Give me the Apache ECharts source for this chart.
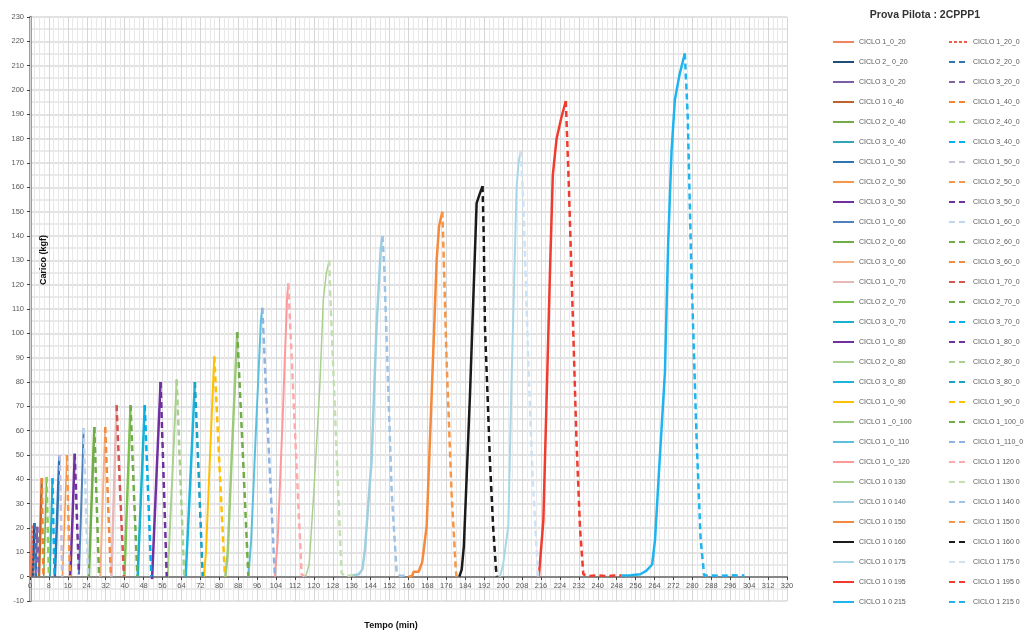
<!DOCTYPE html>
<html><head><meta charset="utf-8">
<script src="https://cdn.jsdelivr.net/npm/echarts@6/dist/echarts.min.js"></script>
<style>html,body{margin:0;padding:0;background:#fff}#c{width:1025px;height:634px}</style>
</head><body><div id="c"></div>
<script>
// ---------- DATA ----------
const loadNames = ["CICLO 1_0_20","CICLO 2_ 0_20","CICLO 3_0_20","CICLO 1 0_40","CICLO 2_0_40","CICLO 3_0_40","CICLO 1_0_50","CICLO 2_0_50","CICLO 3_0_50","CICLO 1_0_60","CICLO 2_0_60","CICLO 3_0_60","CICLO 1_0_70","CICLO 2_0_70","CICLO 3_0_70","CICLO 1_0_80","CICLO 2_0_80","CICLO 3_0_80","CICLO 1_0_90","CICLO 1 _0_100","CICLO 1_0_110","CICLO 1_0_120","CICLO 1 0 130","CICLO 1 0 140","CICLO 1 0 150","CICLO 1 0 160","CICLO 1 0 175","CICLO 1 0 195","CICLO 1 0 215"];
const unloadNames = ["CICLO 1_20_0","CICLO 2_20_0","CICLO 3_20_0","CICLO 1_40_0","CICLO 2_40_0","CICLO 3_40_0","CICLO 1_50_0","CICLO 2_50_0","CICLO 3_50_0","CICLO 1_60_0","CICLO 2_60_0","CICLO 3_60_0","CICLO 1_70_0","CICLO 2_70_0","CICLO 3_70_0","CICLO 1_80_0","CICLO 2_80_0","CICLO 3_80_0","CICLO 1_90_0","CICLO 1_100_0","CICLO 1_110_0","CICLO 1 120 0","CICLO 1 130 0","CICLO 1 140 0","CICLO 1 150 0","CICLO 1 160 0","CICLO 1 175 0","CICLO 1 195 0","CICLO 1 215 0"];

// loading curves [time (min), load (kgf)]
const loadCurves = [
  [[0.1,0],[0.4,10],[0.8,21]],
  [[1.2,0],[1.5,10],[1.9,22]],
  [[2.4,0],[2.7,10],[3.1,20.5]],
  [[3.8,0],[4.4,20],[5.0,40.5]],
  [[5.8,0],[6.4,20],[7.0,41]],
  [[8.4,0],[8.9,20],[9.5,40.5]],
  [[10.5,0],[11.5,25],[12.3,47],[12.6,50]],
  [[13.7,0],[14.7,25],[15.6,50]],
  [[17.0,0],[18.0,25],[18.9,50.5]],
  [[20.7,1],[21.7,30],[22.7,61]],
  [[24.9,0],[26.0,30],[27.2,61.5]],
  [[29.7,0],[30.7,30],[31.8,61.5]],
  [[34.4,0],[35.5,35],[36.6,70.5]],
  [[39.9,0],[41.2,35],[42.5,70.5]],
  [[45.5,0],[47.0,35],[48.5,70.5]],
  [[51.6,-1],[53.4,40],[55.2,80]],
  [[58.2,0],[60.1,40],[62.0,81]],
  [[65.8,0],[67.8,40],[69.7,80]],
  [[73.5,0],[74.4,10],[76.1,50],[77.9,90.5]],
  [[82.6,0],[83.6,10],[85.3,50],[87.6,100.5]],
  [[92.3,0],[93.5,15],[95.5,60],[97.6,105],[98.2,110.5]],
  [[103.5,0],[104.7,15],[106.8,65],[108.7,115],[109.2,120.5]],
  [[116.5,0],[118,5],[120,35],[122.5,78],[124,114],[125.3,125],[126.5,130]],
  [[136.5,0.5],[139,1],[140.5,3],[141.6,11],[143,30],[144.4,48],[146.5,103],[148.3,135],[149,140]],
  [[160,0],[161.5,0.3],[162.2,2],[164.3,2],[165.8,6],[167.7,21],[169.8,75],[171.9,130],[172.9,144],[174.3,150]],
  [[181.5,0],[182.5,3],[183.4,12.5],[186,75],[188.8,153.5],[190,157],[191.3,160.5]],
  [[198.6,0],[200,5],[202.2,21],[203.6,82],[205.7,160],[206.5,170],[207.5,175]],
  [[215.1,0],[217,23],[219.8,125],[221,165],[222.6,180],[224.7,189],[226.5,195.5]],
  [[250,0.5],[254,0.6],[258,1],[260.6,2.5],[263,5],[264.2,15],[266,45],[268.4,84],[269.8,138],[271.2,175],[272.6,196],[274.5,206],[276.8,215]]
];
// unloading curves [time (min), load (kgf)]
const unloadCurves = [
  [[0.8,21],[1.1,10],[1.4,0]],
  [[1.9,22],[2.2,10],[2.5,0]],
  [[3.1,20.5],[3.4,10],[3.8,0]],
  [[5.0,40.5],[5.3,20],[5.7,0]],
  [[7.0,41],[7.5,20],[8.0,0]],
  [[9.5,40.5],[9.9,20],[10.4,0]],
  [[12.6,50],[13.1,25],[13.6,0]],
  [[15.6,50],[16.2,25],[16.9,0]],
  [[18.9,50.5],[19.8,25],[20.7,1]],
  [[22.7,61],[23.6,30],[24.6,0]],
  [[27.2,61.5],[28.2,30],[29.2,0]],
  [[31.8,61.5],[33.0,30],[34.2,0]],
  [[36.6,70.5],[38.1,35],[39.7,0]],
  [[42.5,70.5],[43.9,35],[45.4,0]],
  [[48.5,70.5],[49.9,35],[51.3,0]],
  [[55.2,80],[56.5,40],[57.8,0]],
  [[62.0,81],[63.6,40],[65.2,0]],
  [[69.7,80],[71.4,40],[73.0,0]],
  [[77.9,90.5],[80.1,45],[82.4,0]],
  [[87.6,100.5],[90.0,50],[92.3,0]],
  [[98.2,110.5],[100.8,55],[103.5,0]],
  [[109.2,120.5],[112,60],[114.8,1],[116,0]],
  [[126.5,130],[126.8,119],[128.9,68.6],[130.3,34.4],[131.7,1.6],[133,0.3],[135,0.5],[136.5,0.8]],
  [[149,140],[149.8,126],[151.5,75.5],[152.9,34.5],[155,1.6],[156.5,0.3],[158.9,0.5]],
  [[174.3,150],[174.7,137],[176.1,89],[178.2,34.4],[180,3],[180.3,0]],
  [[191.3,160.5],[191.8,140],[192.3,103],[193.4,75],[194.4,48],[195.8,20],[197,3],[197.4,0]],
  [[207.5,175],[208.7,150],[210.6,89],[212.5,40],[214.8,0]],
  [[226.5,195.5],[227.8,160],[228.9,125],[231,56],[232.5,20],[233.9,1],[236,0.3],[240,0.5],[244,0.2],[247,0.5],[250,0.5]],
  [[276.8,215],[278,190],[279.6,125],[281.8,56],[283.5,15],[285,0.5],[288,0.5],[292,0.3],[296,0.6],[300,0.4],[302,0.5]]
];

// ---------- STYLES ----------
const loadColors = ["#F4845F","#1F4E79","#7B5EA7","#C0622B","#77A84A","#31A6B5","#2E75B6","#F79646","#7030A0","#4F81BD","#70AD47","#F4B183","#E6B9B8","#7BC14B","#17B2D0","#7030A0","#A9D18E","#1CB5E0","#FFC000","#9BCB7A","#5BC0DE","#FF9999","#A9D18E","#9DCFE0","#F58A3C","#1A1A1A","#A8D8E8","#F03C2E","#1EB4F0"];
const unloadColors = ["#F05A4A","#2E75B6","#8064A2","#F7822F","#92D050","#00B0F0","#C9C0DD","#F79646","#7030A0","#BDD7EE","#70AD47","#F58A3C","#D9534F","#70AD47","#00B0F0","#7030A0","#A9D18E","#17A2C8","#FFC000","#70AD47","#8DB4E2","#FFAAAA","#C4E0B2","#9DC3E6","#F79646","#1A1A1A","#CFE2F3","#F03C2E","#1EB4F0"];
const loadWidths = [1.5,2.5,2,2.5,1.5,2,2.5,1.5,2.5,2,2.5,2,2.5,2.5,2.5,2.5,2,2.5,2,2.5,2,2,1.5,2.5,2.5,2.5,2,2.5,2.5];

const series = [];
loadCurves.forEach((d,i)=>series.push({name:loadNames[i],type:'line',data:d,symbol:'none',showSymbol:false,
  lineStyle:{color:loadColors[i],width:loadWidths[i]},itemStyle:{color:loadColors[i]},z:10}));
unloadCurves.forEach((d,i)=>series.push({name:unloadNames[i],type:'line',data:d,symbol:'none',showSymbol:false,
  lineStyle:{color:unloadColors[i],width:i===0?1.5:2.5,type:i===0?[3,2]:[6,4]},itemStyle:{color:unloadColors[i]},z:10}));

const FONT = 'Liberation Sans';
const legendBase = {orient:'vertical',top:38,padding:0,itemHeight:10,itemGap:12,selectedMode:false,
  itemStyle:{opacity:0},textStyle:{fontSize:7,color:'#595959',fontFamily:FONT}};
const chart = echarts.init(document.getElementById('c'));
chart.setOption({
  animation:false,
  backgroundColor:'#fff',
  grid:{left:30,right:238,top:17,bottom:33},
  xAxis:{type:'value',min:0,max:320,interval:8,position:'bottom',offset:-24,z:5,
    axisLine:{onZero:false,lineStyle:{color:'#868686',width:2}},
    axisTick:{show:true,length:3,lineStyle:{color:'#404040'}},
    axisLabel:{fontSize:7.5,color:'#595959',margin:5,fontFamily:FONT,showMinLabel:true,showMaxLabel:true,hideOverlap:false},
    splitLine:{show:true,lineStyle:{color:'#d6d6d6',width:1}},
    minorTick:{show:false,splitNumber:4},
    minorSplitLine:{show:true,lineStyle:{color:'#e8e8e8',width:1}}},
  yAxis:{type:'value',min:-10,max:230,interval:10,z:1,
    axisLine:{show:true,onZero:false,lineStyle:{color:'#7f7f7f',width:2.5}},
    axisTick:{show:true,length:3,lineStyle:{color:'#404040'}},
    axisLabel:{fontSize:7.5,color:'#595959',margin:6,fontFamily:FONT},
    splitLine:{show:true,lineStyle:{color:'#d9d9d9',width:1.5}},
    minorTick:{show:false,splitNumber:2},
    minorSplitLine:{show:true,lineStyle:{color:'#e3e3e3',width:1.5}}},
  legend:[
    Object.assign({},legendBase,{data:loadNames,left:832,itemWidth:21}),
    Object.assign({},legendBase,{data:unloadNames,left:948,itemWidth:19})
  ],
  graphic:[
    {type:'text',z:100,x:925,y:15,style:{text:'Prova Pilota : 2CPPP1',align:'center',verticalAlign:'middle',font:'bold 10.5px "Liberation Sans"',fill:'#333'}},
    {type:'text',z:100,x:391,y:626,style:{text:'Tempo (min)',align:'center',verticalAlign:'middle',font:'bold 9px "Liberation Sans"',fill:'#111'}},
    {type:'text',z:100,x:44,y:260,rotation:Math.PI/2,style:{text:'Carico (kgf)',align:'center',verticalAlign:'middle',font:'bold 9px "Liberation Sans"',fill:'#111'}}
  ],
  series:series
});
</script></body></html>
